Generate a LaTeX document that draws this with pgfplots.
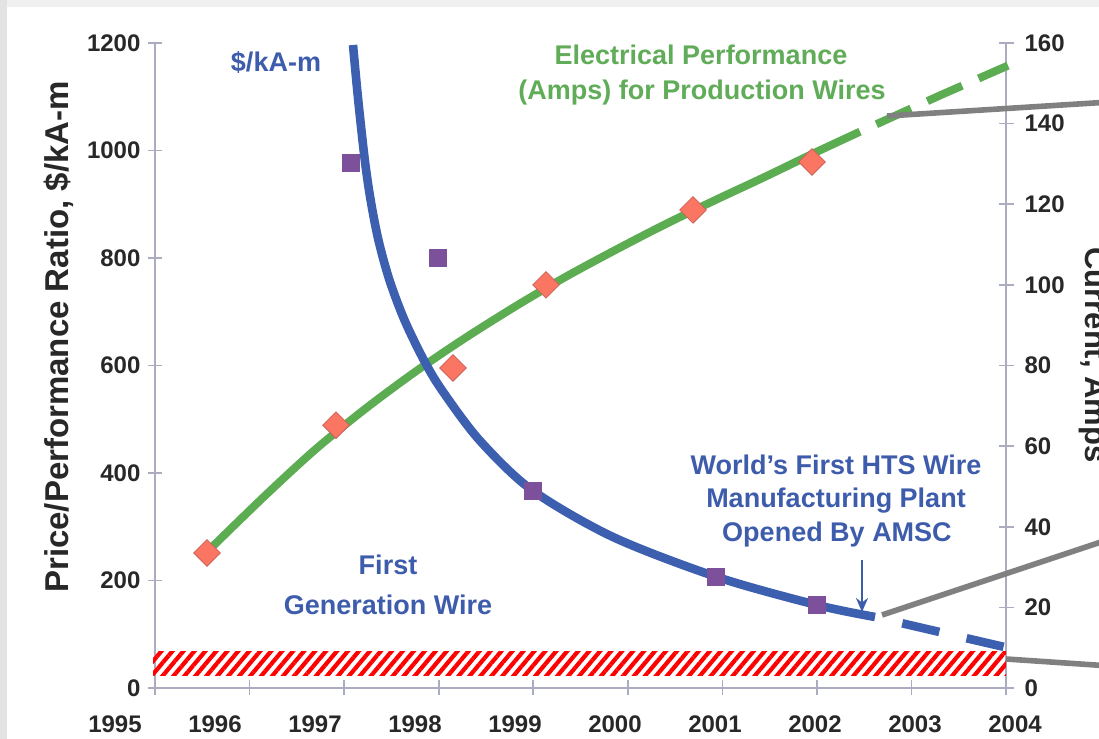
\documentclass[border=0pt]{standalone}
\usepackage{pgfplots}
\pgfplotsset{compat=1.18}
\usepackage{fontspec}
\setmainfont{Liberation Sans}
\usetikzlibrary{patterns.meta,arrows.meta}

\definecolor{lineblue}{RGB}{61,95,176}
\definecolor{txtblue}{RGB}{62,92,172}
\definecolor{linegreen}{RGB}{92,172,82}
\definecolor{txtgreen}{RGB}{96,172,88}
\definecolor{dfill}{RGB}{250,118,98}
\definecolor{dedge}{RGB}{205,95,85}
\definecolor{sqpurple}{RGB}{125,80,155}
\definecolor{axgray}{RGB}{172,172,192}
\definecolor{callout}{RGB}{128,128,128}
\definecolor{ticktxt}{RGB}{40,40,40}

\pgfplotsset{
  base/.style={
    scale only axis, width=425.5pt, height=322.5pt,
    xmin=1995.40, xmax=2003.91,
    clip=false,
    axis line style={draw=axgray, line width=0.8pt},
    tick style={draw=axgray, line width=0.8pt},
    major tick length=7.5pt, tick align=center,
    /pgf/number format/assume math mode=true,
    /pgf/number format/1000 sep={},
    ticklabel style={font=\fontsize{12}{14}\selectfont\bfseries, text=ticktxt},
  },
}

\begin{document}
\begin{tikzpicture}
\useasboundingbox (0,0) rectangle (549.5pt,369.5pt);
\clip (0,0) rectangle (549.5pt,369.5pt);
\fill[white] (0,0) rectangle (549.5pt,369.5pt);

% current (right axis)
\begin{axis}[base, at={(77.5pt,25.5pt)}, anchor=south west,
  axis x line=none, axis y line*=right,
  ymin=0, ymax=160, ytick={0,20,...,160},
  yticklabel style={xshift=2pt}]
\addplot[linegreen, line width=4pt, smooth] coordinates {
  (1995.98,35.2) (1996.5,47.7) (1997.0,59.1) (1997.5,69.2)
  (1998.0,78.4) (1998.5,86.8) (1999.0,94.6) (1999.5,101.9)
  (2000.0,108.6) (2000.5,115.0) (2001.0,121.0) (2001.5,126.8)
  (2002.0,132.8) (2002.45,138.0)
};
\addplot[linegreen, line width=4pt, dash pattern=on 19pt off 9pt, dash phase=19pt] coordinates {
  (2002.45,138.0) (2003.25,147.0) (2003.93,154.4)
};
\addplot[only marks, mark=square*, mark size=4.7pt,
  mark options={rotate=45, fill=dfill, draw=dedge, line width=0.4pt}] coordinates {
  (1995.92,33.5) (1997.21,65.2) (1998.38,79.4)
  (1999.31,100.0) (2000.78,118.6) (2001.97,130.5)
};
\end{axis}

% price/performance (left axis)
\begin{axis}[base, at={(77.5pt,25.5pt)}, anchor=south west,
  axis x line*=bottom, axis y line*=left,
  ymin=0, ymax=1200, ytick={0,200,...,1200},
  xtick={1995.40,1996.346,1997.291,1998.237,1999.182,2000.128,2001.074,2002.019,2002.965,2003.91},
  xticklabels={}]
\addplot[draw=none, pattern={Lines[angle=50, distance=4.2pt, line width=2.1pt]},
  pattern color=red] coordinates {
  (1995.38,24) (2003.91,24) (2003.91,67) (1995.38,67) (1995.38,24)
};
\addplot[lineblue, line width=4.3pt, smooth] coordinates {
  (1997.380,1196.3) (1997.432,1094.0) (1997.498,982.3) (1997.556,907.9)
  (1997.634,833.5) (1997.744,759.1) (1997.894,684.7) (1998.088,610.2)
  (1998.268,554.4) (1998.643,461.4) (1999.168,368.4) (1999.980,280.9)
  (2001.020,206.5) (2002.020,154.4) (2002.600,132.1)
};
\addplot[lineblue, line width=4.3pt, dash pattern=on 19pt off 14pt, dash phase=19pt] coordinates {
  (2002.600,132.1) (2003.25,104) (2003.90,76)
};
\addplot[only marks, mark=square*, mark size=4.2pt,
  mark options={fill=sqpurple, draw=sqpurple}] coordinates {
  (1997.36,977) (1998.23,800) (1999.18,367) (2001.01,207) (2002.02,154)
};
\pgfplotsinvokeforeach{1995,...,2004}{
  \node[font=\fontsize{12}{14}\selectfont\bfseries, text=ticktxt, yshift=-18pt]
    at (axis cs:#1,0) {#1};
}
\end{axis}

\begin{scope}[yshift=369.5pt, x=0.5pt, y=-0.5pt]
\fill[gray!12] (0,0) rectangle (1099,7);
\fill[gray!22] (0,0) rectangle (7,739);
\draw[callout, line width=2.8pt] (887,116) -- (1110,102);
\draw[callout, line width=2.8pt] (882,615) -- (1110,539);
\draw[callout, line width=2.8pt] (1006,659) -- (1110,666);
\draw[txtblue, line width=1.1pt, -{Stealth[length=7pt,width=6pt]}] (862,560) -- (862,612);
\begin{scope}[every node/.style={anchor=base, inner sep=0pt, font=\fontsize{13.5}{16}\selectfont\bfseries}]
\node[text=txtblue] at (276,72) {\$/kA-m};
\node[text=txtgreen] at (701,65) {Electrical Performance};
\node[text=txtgreen] at (702,100) {(Amps) for Production Wires};
\node[text=txtblue] at (388,575) {First};
\node[text=txtblue] at (388,615) {Generation Wire};
\node[text=txtblue] at (836,475) {World’s First HTS Wire};
\node[text=txtblue] at (836,508) {Manufacturing Plant};
\node[text=txtblue] at (837,542) {Opened By AMSC};
\end{scope}
\node[rotate=90, anchor=base, inner sep=0pt, text=ticktxt,
  font=\fontsize{16.5}{19}\selectfont\bfseries] at (68,337) {Price/Performance Ratio, \$/kA-m};
\node[rotate=-90, anchor=base, inner sep=0pt, text=ticktxt,
  font=\fontsize{15.5}{18}\selectfont\bfseries] at (1085,355) {Current, Amps};
\end{scope}
\end{tikzpicture}
\end{document}
